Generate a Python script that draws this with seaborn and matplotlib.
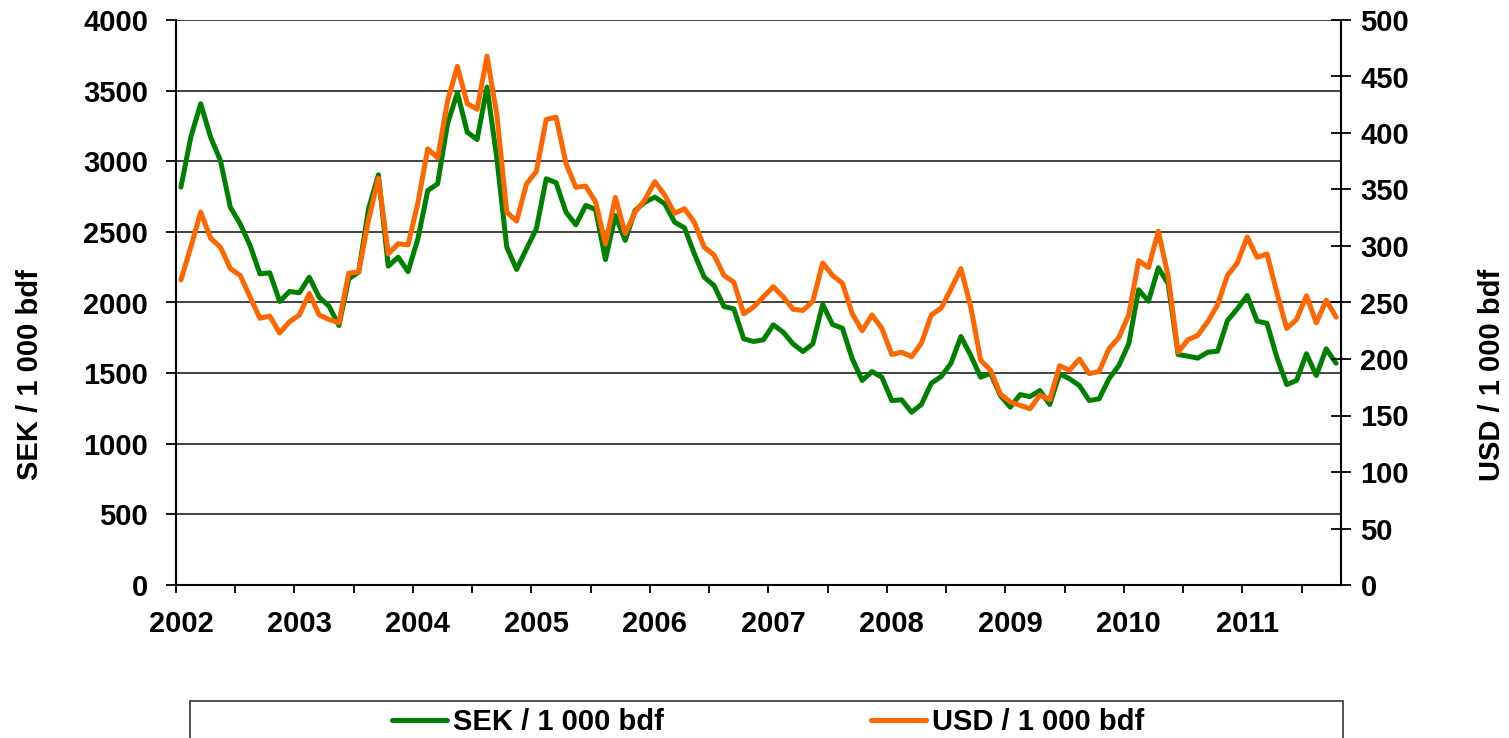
import numpy as np
import pandas as pd
import matplotlib
matplotlib.use("Agg")
import matplotlib.pyplot as plt
from matplotlib.patches import Rectangle
from matplotlib.ticker import FixedLocator, NullFormatter
import seaborn as sns

sns.set_theme(style="white")
plt.rcParams['font.family'] = ['Liberation Sans', 'DejaVu Sans']
plt.rcParams['font.weight'] = 'bold'
plt.rcParams['text.color'] = 'black'
plt.rcParams['axes.labelcolor'] = 'black'
plt.rcParams['xtick.color'] = 'black'
plt.rcParams['ytick.color'] = 'black'

# monthly prices, jan 2002 - oct 2011
sek = [2817, 3171, 3407, 3171, 3005, 2675, 2557, 2404, 2203, 2210, 2007, 2078,
       2069, 2179, 2037, 1974, 1837, 2168, 2215, 2663, 2904, 2257, 2321, 2219,
       2451, 2793, 2840, 3265, 3485, 3206, 3154, 3525, 3020, 2392, 2234, 2380,
       2522, 2876, 2848, 2640, 2550, 2687, 2659, 2304, 2616, 2439, 2652, 2710,
       2746, 2699, 2569, 2529, 2345, 2179, 2120, 1972, 1955, 1743, 1724, 1736,
       1842, 1790, 1707, 1653, 1707, 1986, 1844, 1818, 1601, 1448, 1511, 1471,
       1306, 1311, 1223, 1278, 1428, 1476, 1570, 1759, 1625, 1471, 1499, 1341,
       1259, 1348, 1334, 1377, 1278, 1495, 1460, 1412, 1306, 1318, 1460, 1554,
       1707, 2090, 2009, 2246, 2132, 1632, 1620, 1606, 1648, 1655, 1872, 1955,
       2050, 1868, 1853, 1613, 1419, 1448, 1637, 1483, 1672, 1570]
usd = [270, 299, 330, 307, 299, 280, 274, 255, 236, 238, 223, 233,
       239, 258, 239, 235, 232, 276, 277, 323, 360, 293, 302, 301,
       338, 386, 378, 428, 459, 426, 421, 468, 416, 330, 322, 355,
       366, 412, 414, 373, 352, 353, 339, 302, 343, 311, 330, 341,
       357, 345, 329, 333, 321, 299, 292, 274, 268, 240, 246, 255,
       264, 255, 244, 243, 251, 285, 274, 267, 240, 225, 239, 227,
       204, 206, 202, 214, 239, 245, 262, 280, 246, 199, 190, 169,
       162, 159, 156, 168, 164, 194, 190, 200, 187, 189, 209, 219,
       239, 287, 281, 313, 273, 206, 217, 221, 233, 248, 274, 285,
       308, 290, 293, 259, 227, 235, 256, 232, 252, 237]
years = ["2002", "2003", "2004", "2005", "2006", "2007", "2008", "2009", "2010", "2011"]

df = pd.DataFrame({"month": np.arange(len(sek)), "sek": sek, "usd": usd})
n = len(df)
fs = 21

fig = plt.figure(figsize=(15.09, 7.38), dpi=100)
ax = fig.add_axes([176/1509, 1-585/738, (1341-176)/1509, (585-20)/738])
ax2 = ax.twinx()

sns.lineplot(data=df, x="month", y="sek", ax=ax, color="#008000", lw=3.6, label="SEK / 1 000 bdf", legend=False)
sns.lineplot(data=df, x="month", y="usd", ax=ax2, color="#FF6600", lw=3.6, label="USD / 1 000 bdf", legend=False)

ax.set_xlim(-0.5, n-0.5)
ax.set_ylim(0, 4000)
ax2.set_ylim(0, 500)
ax.set_yticks(np.arange(0, 4001, 500))
ax2.set_yticks(np.arange(0, 501, 50))

# tick marks every half year, year labels on january
ax.xaxis.set_major_locator(FixedLocator(np.arange(-0.5, n, 6)))
ax.xaxis.set_major_formatter(NullFormatter())
ax.set_xticks(np.arange(0, n, 12), minor=True)
ax.set_xticklabels(years, minor=True)
ax.tick_params(axis='x', which='major', direction='out', length=6, width=1.3, color='black', bottom=True)
ax.tick_params(axis='x', which='minor', length=0, pad=18, labelsize=fs)
ax.tick_params(axis='y', direction='out', length=7, width=1.3, color='black', left=True, pad=13, labelsize=fs)
ax2.tick_params(axis='y', direction='inout', length=14, width=1.3, color='black', right=True, pad=7, labelsize=fs)

ax.grid(axis='y', color='#222222', lw=1.2)
ax.grid(axis='x', visible=False)
ax2.grid(False)
for a in (ax, ax2):
    for s in a.spines.values():
        s.set_visible(False)
    a.set_xlabel("")
ax.spines['left'].set_visible(True)
ax.spines['bottom'].set_visible(True)
ax2.spines['right'].set_visible(True)
for s in (ax.spines['left'], ax.spines['bottom'], ax2.spines['right']):
    s.set_color('black')
    s.set_linewidth(1.5)

ax.set_ylabel("SEK / 1 000 bdf", fontsize=fs, fontweight='bold')
ax2.set_ylabel("USD / 1 000 bdf", fontsize=fs, fontweight='bold')
ax.yaxis.set_label_coords(-(176-44)/1165, (585-375)/565)
ax2.yaxis.set_label_coords(1+(1478-1341)/1165, (585-375)/565)

# legend box along the bottom, runs off the figure edge
fig.patches.append(Rectangle((190/1509, -0.1), (1343-190)/1509, 0.1+(738-701)/738,
                             transform=fig.transFigure, fill=False, edgecolor='#333333', lw=1.2))
h1, l1 = ax.get_legend_handles_labels()
h2, l2 = ax2.get_legend_handles_labels()
fig.legend(h1+h2, l1+l2, loc='center', bbox_to_anchor=(768/1509, 1-722/738), ncol=2, frameon=False,
           columnspacing=7.1, handlelength=1.9, handletextpad=0.2, prop={'size': fs, 'weight': 'bold'})

fig.savefig("out.png", dpi=100)
